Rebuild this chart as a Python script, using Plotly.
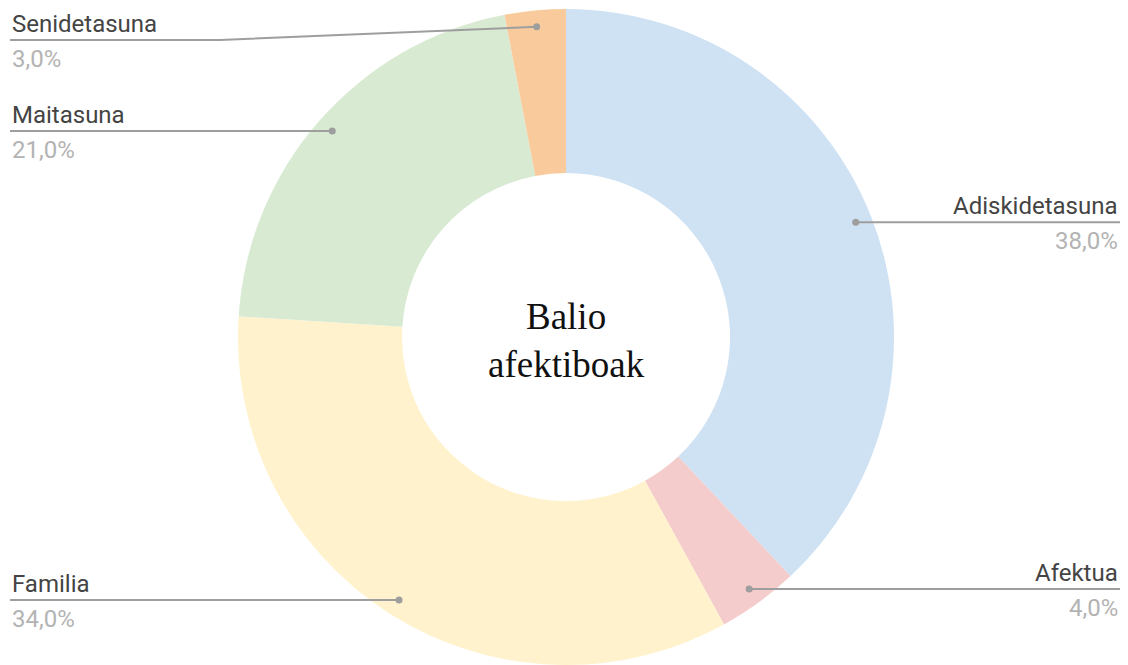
import math
import plotly.graph_objects as go

# ---- data ----
labels = ["Adiskidetasuna", "Afektua", "Familia", "Maitasuna", "Senidetasuna"]
values = [38.0, 4.0, 34.0, 21.0, 3.0]
colors = ["#cfe2f3", "#f4cccc", "#fff2cc", "#d9ead3", "#f9cb9c"]
center_title = "Balio<br>afektiboak"

# ---- layout constants (pixels) ----
W, H = 1128, 665
dom_x = [0.00355, 1.0]
dom_y = [0.0, 656 / 665]
cx = (dom_x[0] + dom_x[1]) / 2 * W
cy = H - (dom_y[0] + dom_y[1]) / 2 * H
R = min((dom_x[1] - dom_x[0]) * W, (dom_y[1] - dom_y[0]) * H) / 2
dot_r = 0.95 * R
left_x, right_x = 10, 1120
min_label_y = 40
elbow_len = 210
line_col = "#9e9e9e"
dot_size = 3.5

fig = go.Figure()
fig.add_trace(go.Pie(
    labels=labels, values=values, hole=0.5, sort=False, direction="clockwise",
    rotation=0, marker=dict(colors=colors, line=dict(width=0)),
    textinfo="none", hoverinfo="skip", showlegend=False,
    domain=dict(x=dom_x, y=dom_y),
))
# invisible helper trace so the pixel-space axes exist
fig.add_trace(go.Scatter(x=[0, W], y=[0, H], mode="markers", marker=dict(opacity=0),
                         hoverinfo="skip", showlegend=False))

total = sum(values)
cum = 0.0
annotations = []
shapes = []
for lab, v in zip(labels, values):
    mid = (cum + v / 2) / total * 2 * math.pi
    cum += v
    dx = cx + dot_r * math.sin(mid)
    dy = cy - dot_r * math.cos(mid)
    right = math.sin(mid) > 0
    lx = right_x if right else left_x
    ly = max(dy, min_label_y)
    if abs(ly - dy) > 0.5:
        ex = lx - elbow_len if right else lx + elbow_len
        pts = [(lx, ly), (ex, ly), (dx, dy)]
    else:
        pts = [(lx, ly), (dx, dy)]
    path = "M " + " L ".join(f"{px:.2f},{py:.2f}" for px, py in pts)
    shapes.append(dict(type="path", path=path, xref="x", yref="y", layer="above",
                       line=dict(color=line_col, width=2)))
    shapes.append(dict(type="circle", xref="x", yref="y", layer="above",
                       x0=dx - dot_size, x1=dx + dot_size, y0=dy - dot_size, y1=dy + dot_size,
                       fillcolor=line_col, line=dict(width=0)))
    anchor = "right" if right else "left"
    annotations.append(dict(x=lx, y=ly - 16, xref="x", yref="y", text=lab, showarrow=False,
                            xanchor=anchor, yanchor="middle",
                            font=dict(family="Roboto", size=24, color="#444444")))
    pct = f"{v:.1f}".replace(".", ",") + "%"
    annotations.append(dict(x=lx, y=ly + 19, xref="x", yref="y", text=pct, showarrow=False,
                            xanchor=anchor, yanchor="middle",
                            font=dict(family="Roboto", size=24, color="#b3b3b3")))

annotations.append(dict(x=cx, y=cy + 3, xref="x", yref="y", text=center_title, showarrow=False,
                        xanchor="center", yanchor="middle",
                        font=dict(family="Liberation Serif", size=37, color="#111111")))

fig.update_layout(
    width=W, height=H, margin=dict(l=0, r=0, t=0, b=0),
    paper_bgcolor="white", plot_bgcolor="rgba(0,0,0,0)",
    xaxis=dict(range=[0, W], visible=False, fixedrange=True),
    yaxis=dict(range=[H, 0], visible=False, fixedrange=True),
    annotations=annotations, shapes=shapes,
)
fig.write_html("out.html", config={"displayModeBar": False, "staticPlot": True},
               post_script="document.body.style.margin='0';document.body.style.overflow='hidden';")
